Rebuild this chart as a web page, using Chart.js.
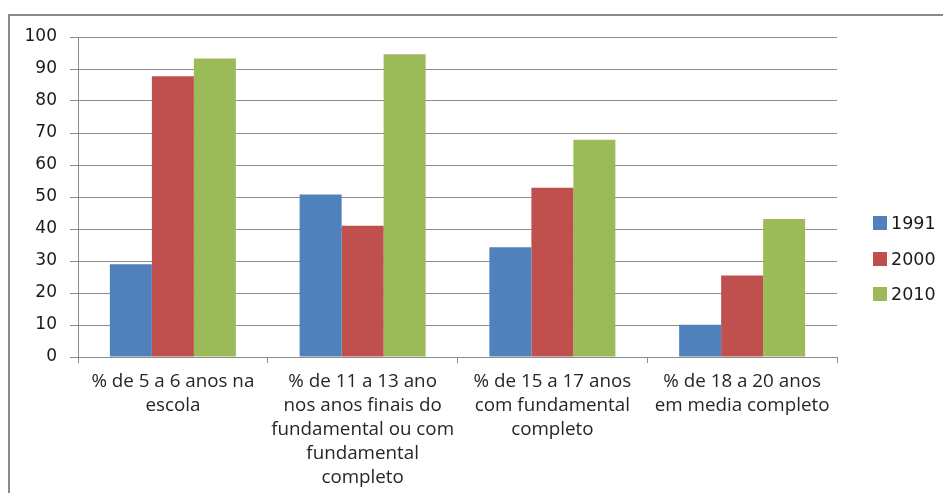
<!DOCTYPE html>
<html>
<head>
<meta charset="utf-8">
<script src="https://cdn.jsdelivr.net/npm/chart.js@4/dist/chart.umd.min.js"></script>
<style>
  html, body { margin: 0; padding: 0; background: #ffffff; overflow: hidden; }
  #wrap { position: relative; width: 943px; height: 493px; }
  #frame { position: absolute; left: 8px; top: 14px; width: 960px; height: 500px;
           border-top: 2px solid #8a8a8a; border-left: 2px solid #8a8a8a; box-sizing: border-box; }
  #chart { position: absolute; left: 0; top: 0; }
</style>
</head>
<body>
<div id="wrap">
  <div id="frame"></div>
  <canvas id="chart" width="943" height="493"></canvas>
</div>
<script>
// Indicadores de escolaridade por faixa etária (%)
const categories = [
  ["% de 5 a 6 anos na", "escola"],
  ["% de 11 a 13 ano", "nos anos finais do", "fundamental ou com", "fundamental", "completo"],
  ["% de 15 a 17 anos", "com fundamental", "completo"],
  ["% de 18 a 20 anos", "em media completo"]
];
const seriesNames = ["1991", "2000", "2010"];
const values1991 = [29.0, 50.8, 34.3, 10.1];
const values2000 = [87.7, 41.0, 52.9, 25.5];
const values2010 = [93.3, 94.6, 67.9, 43.1];
const yTicks = [0, 10, 20, 30, 40, 50, 60, 70, 80, 90, 100];

const colors = ["#4F81BD", "#C0504D", "#9BBB59"];
const gridColor = "#8c8c8c";

// Legend drawn to the right of the plot area, one row per series
const sideLegend = {
  id: "sideLegend",
  afterDraw(chart) {
    const ctx = chart.ctx;
    const x0 = chart.chartArea.right + 36;
    const rows = [223, 259, 294];
    ctx.save();
    ctx.font = "17.5px 'DejaVu Sans'";
    ctx.textBaseline = "middle";
    ctx.textAlign = "left";
    chart.data.datasets.forEach((ds, i) => {
      ctx.fillStyle = ds.backgroundColor;
      ctx.fillRect(x0, rows[i] - 7, 14, 14);
      ctx.fillStyle = "#1a1a1a";
      ctx.fillText(ds.label, x0 + 18, rows[i] + 1);
    });
    ctx.restore();
  }
};

new Chart(document.getElementById("chart"), {
  type: "bar",
  data: {
    labels: categories,
    datasets: [
      { label: seriesNames[0], data: values1991, backgroundColor: colors[0] },
      { label: seriesNames[1], data: values2000, backgroundColor: colors[1] },
      { label: seriesNames[2], data: values2010, backgroundColor: colors[2] }
    ]
  },
  options: {
    responsive: false,
    animation: false,
    devicePixelRatio: 1,
    layout: { padding: { top: 37, right: 106, left: 0, bottom: 0 } },
    datasets: { bar: { categoryPercentage: 0.664, barPercentage: 1.0, borderWidth: 0 } },
    plugins: {
      legend: { display: false },
      tooltip: { enabled: false }
    },
    scales: {
      x: {
        grid: {
          offset: true,
          drawOnChartArea: false,
          drawTicks: true,
          tickLength: 6,
          color: gridColor
        },
        border: { display: true, color: gridColor, width: 1 },
        ticks: {
          color: "#262626",
          font: { family: "'Open Sans'", size: 18.8, lineHeight: 1.277 },
          padding: 7,
          maxRotation: 0,
          autoSkip: false
        },
        afterFit(scale) { scale.height = 136; }
      },
      y: {
        min: 0,
        max: 100,
        afterBuildTicks(scale) { scale.ticks = yTicks.map(v => ({ value: v })); },
        grid: {
          color: gridColor,
          lineWidth: 1,
          drawTicks: true,
          tickLength: 8
        },
        border: { display: true, color: gridColor, width: 1 },
        ticks: {
          color: "#1a1a1a",
          font: { family: "'DejaVu Sans'", size: 17 },
          padding: 13
        },
        afterFit(scale) { scale.width = 78; }
      }
    }
  },
  plugins: [sideLegend]
});
</script>
</body>
</html>
